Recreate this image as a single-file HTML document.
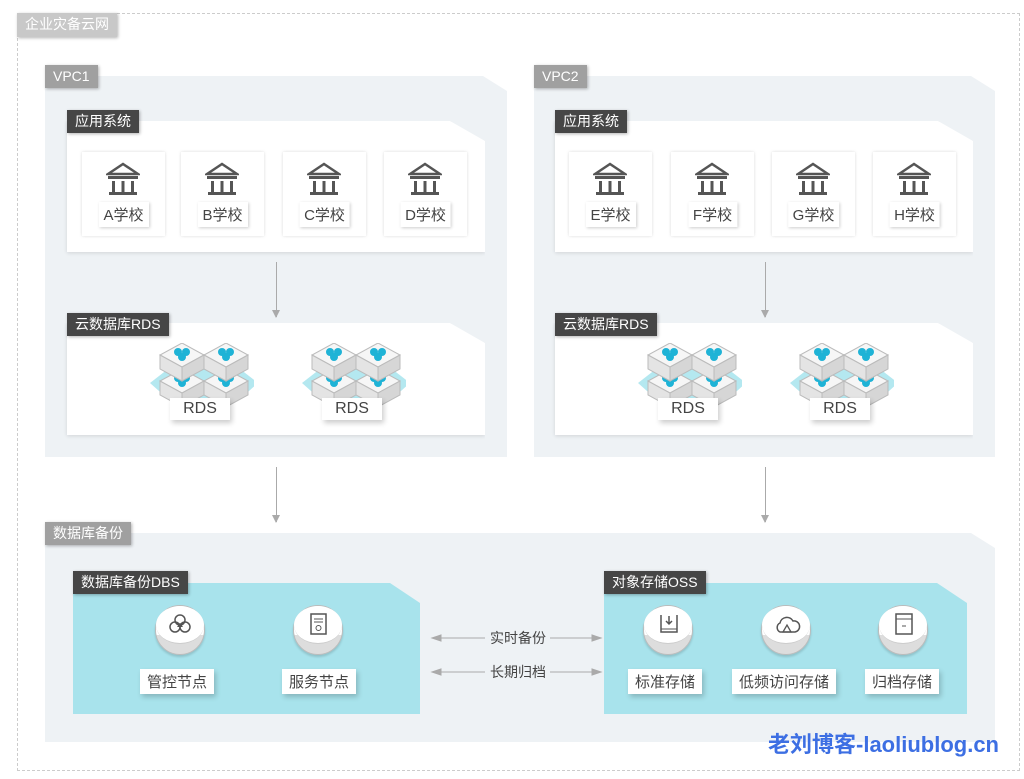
<!DOCTYPE html>
<html><head><meta charset="utf-8"><style>
*{margin:0;padding:0;box-sizing:border-box}
body{width:1024px;height:779px;background:#fff;position:relative;overflow:hidden;font-family:"Liberation Sans","Noto Sans CJK SC",sans-serif}
.a{position:absolute}
.lbl{position:absolute;color:#fff;font-size:14px;line-height:23px;padding:0 8px;white-space:nowrap;box-shadow:1px 1px 3px rgba(0,0,0,.3)}
.g{background:#a0a0a0}.d{background:#464646}
.panel{position:absolute;background:#eef2f5;clip-path:polygon(0 0,calc(100% - 24px) 0,100% 15px,100% 100%,0 100%)}
.wp{position:absolute;background:#fff;box-shadow:0 1px 4px rgba(0,0,0,.12);clip-path:polygon(0 0,calc(100% - 35px) 0,100% 20px,100% calc(100% + 5px),-5px calc(100% + 5px),-5px 0)}
.card{position:absolute;width:83px;height:84px;background:#fff;box-shadow:0 0 3px rgba(0,0,0,.15)}
.card .t{position:absolute;left:50%;transform:translateX(-50%);top:50px;background:#fff;box-shadow:1px 1px 3px rgba(0,0,0,.2);font-size:15px;color:#444;padding:2px 5px;white-space:nowrap}
.cy{position:absolute;background:#a8e3ec;clip-path:polygon(0 0,calc(100% - 30px) 0,100% 20px,100% 100%,0 100%)}
.nb{position:absolute;background:#fff;color:#444;font-size:15px;padding:2px 7px;box-shadow:2px 3px 5px rgba(0,0,0,.2);white-space:nowrap}
.circ{position:absolute;width:50px;height:50px;border-radius:50%;background:linear-gradient(#fff 60%,#ddd 60%);border:1px solid #bbb;box-shadow:0 2px 2px rgba(0,0,0,.15)}
.circ .f{position:absolute;left:0;top:0;width:48px;height:38px;border-radius:50%;background:#fff;border-bottom:1px solid #ccc}
.varr{position:absolute;width:1px;background:#aaa}
.varr:after{content:"";position:absolute;left:-4px;bottom:-1px;border-left:4.5px solid transparent;border-right:4.5px solid transparent;border-top:8px solid #aaa}
</style></head><body>
<div class="a" style="left:17px;top:13px;width:1003px;height:758px;border:1px dashed #ccc"></div>
<div class="lbl" style="left:17px;top:13px;background:#c8c8c8;height:24px">企业灾备云网</div>

<div class="panel" style="left:45px;top:76px;width:462px;height:381px"></div>
<div class="lbl g" style="left:45px;top:65px">VPC1</div>
<div class="panel" style="left:534px;top:76px;width:461px;height:381px"></div>
<div class="lbl g" style="left:534px;top:65px">VPC2</div>

<svg width="0" height="0" style="position:absolute"><defs>
<g id="bank"><path d="M2 12 L17 2 L32 12 Z" fill="none" stroke="#555" stroke-width="2.5"/><rect x="2" y="14" width="30" height="3" fill="#555"/><rect x="6" y="19" width="3" height="12" fill="#555"/><rect x="15.5" y="19" width="3" height="12" fill="#555"/><rect x="25" y="19" width="3" height="12" fill="#555"/><rect x="3" y="30" width="28" height="3" fill="#555"/></g>
<g id="cube"><path d="M22 0 L44 12 L22 24 L0 12Z" fill="#f6f6f6" stroke="#bbb"/><path d="M0 12 L22 24 L22 38 L0 26Z" fill="#e4e4e4" stroke="#bbb"/><path d="M44 12 L22 24 L22 38 L44 26Z" fill="#d6d6d6" stroke="#bbb"/><circle cx="18" cy="9" r="4" fill="#1fb3d6"/><circle cx="26" cy="9" r="4" fill="#1fb3d6"/><circle cx="22" cy="14" r="4" fill="#1fb3d6"/></g>
<g id="rds"><path d="M-4 40 L14 26 L86 26 L104 40 L86 56 L14 56Z" fill="#b4e8f0"/><use href="#cube" x="6" y="26"/><use href="#cube" x="50" y="26"/><use href="#cube" x="6" y="0"/><use href="#cube" x="50" y="0"/></g>
</defs></svg>

<div class="wp" style="left:67px;top:121px;width:418px;height:131px"></div>
<div class="lbl d" style="left:67px;top:110px">应用系统</div>
<div class="wp" style="left:555px;top:121px;width:418px;height:131px"></div>
<div class="lbl d" style="left:555px;top:110px">应用系统</div>
<div class="card" style="left:82px;top:152px"><svg class="a" style="left:24px;top:10px" width="34" height="34"><use href="#bank"/></svg><div class="t">A学校</div></div>
<div class="card" style="left:181px;top:152px"><svg class="a" style="left:24px;top:10px" width="34" height="34"><use href="#bank"/></svg><div class="t">B学校</div></div>
<div class="card" style="left:283px;top:152px"><svg class="a" style="left:24px;top:10px" width="34" height="34"><use href="#bank"/></svg><div class="t">C学校</div></div>
<div class="card" style="left:384px;top:152px"><svg class="a" style="left:24px;top:10px" width="34" height="34"><use href="#bank"/></svg><div class="t">D学校</div></div>
<div class="card" style="left:569px;top:152px"><svg class="a" style="left:24px;top:10px" width="34" height="34"><use href="#bank"/></svg><div class="t">E学校</div></div>
<div class="card" style="left:671px;top:152px"><svg class="a" style="left:24px;top:10px" width="34" height="34"><use href="#bank"/></svg><div class="t">F学校</div></div>
<div class="card" style="left:772px;top:152px"><svg class="a" style="left:24px;top:10px" width="34" height="34"><use href="#bank"/></svg><div class="t">G学校</div></div>
<div class="card" style="left:873px;top:152px"><svg class="a" style="left:24px;top:10px" width="34" height="34"><use href="#bank"/></svg><div class="t">H学校</div></div>

<div class="varr" style="left:276px;top:262px;height:55px"></div>
<div class="varr" style="left:765px;top:262px;height:55px"></div>

<div class="wp" style="left:67px;top:323px;width:418px;height:112px"></div>
<div class="lbl d" style="left:67px;top:313px">云数据库RDS</div>
<div class="wp" style="left:555px;top:323px;width:418px;height:112px"></div>
<div class="lbl d" style="left:555px;top:313px">云数据库RDS</div>
<svg class="a" style="left:150px;top:343px" width="104" height="64"><use href="#rds" x="4"/></svg>
<svg class="a" style="left:302px;top:343px" width="104" height="64"><use href="#rds" x="4"/></svg>
<svg class="a" style="left:638px;top:343px" width="104" height="64"><use href="#rds" x="4"/></svg>
<svg class="a" style="left:790px;top:343px" width="104" height="64"><use href="#rds" x="4"/></svg>
<div class="nb" style="left:170px;top:398px;width:60px;text-align:center;font-size:16px">RDS</div>
<div class="nb" style="left:322px;top:398px;width:60px;text-align:center;font-size:16px">RDS</div>
<div class="nb" style="left:658px;top:398px;width:60px;text-align:center;font-size:16px">RDS</div>
<div class="nb" style="left:810px;top:398px;width:60px;text-align:center;font-size:16px">RDS</div>

<div class="varr" style="left:276px;top:467px;height:55px"></div>
<div class="varr" style="left:765px;top:467px;height:55px"></div>

<div class="panel" style="left:45px;top:533px;width:950px;height:209px"></div>
<div class="lbl g" style="left:45px;top:522px">数据库备份</div>
<div class="cy" style="left:73px;top:583px;width:347px;height:131px"></div>
<div class="lbl d" style="left:73px;top:571px">数据库备份DBS</div>
<div class="cy" style="left:604px;top:583px;width:363px;height:131px"></div>
<div class="lbl d" style="left:604px;top:571px">对象存储OSS</div>

<div class="circ" style="left:155px;top:605px"><div class="f"></div><svg class="a" style="left:12px;top:6px" width="24" height="24"><circle cx="12" cy="8" r="5" fill="none" stroke="#555" stroke-width="1.5"/><circle cx="7" cy="15" r="5" fill="none" stroke="#555" stroke-width="1.5"/><circle cx="17" cy="15" r="5" fill="none" stroke="#555" stroke-width="1.5"/><path d="M9 15 L12 11 L15 15Z" fill="#555"/></svg></div>
<div class="circ" style="left:293px;top:605px"><div class="f"></div><svg class="a" style="left:14px;top:6px" width="22" height="26"><rect x="3" y="2" width="15" height="20" fill="none" stroke="#555" stroke-width="1.5"/><line x1="6" y1="7" x2="15" y2="7" stroke="#555"/><line x1="6" y1="10" x2="15" y2="10" stroke="#555"/><circle cx="10.5" cy="16" r="2.5" fill="none" stroke="#555"/></svg></div>
<div class="nb" style="left:140px;top:669px">管控节点</div>
<div class="nb" style="left:282px;top:669px">服务节点</div>

<div class="circ" style="left:643px;top:605px"><div class="f"></div><svg class="a" style="left:14px;top:6px" width="22" height="26"><path d="M3 3 L3 20 L19 20 L19 3" fill="none" stroke="#555" stroke-width="1.5"/><line x1="3" y1="17" x2="19" y2="17" stroke="#555"/><path d="M11 4 L11 12 M8 9 L11 12 L14 9" fill="none" stroke="#555" stroke-width="1.5"/></svg></div>
<div class="circ" style="left:761px;top:605px"><div class="f"></div><svg class="a" style="left:11px;top:7px" width="28" height="24"><path d="M7 19 A5 5 0 0 1 7 10 A7 7 0 0 1 20 8 A5.5 5.5 0 0 1 22 19 Z" fill="none" stroke="#555" stroke-width="1.5"/><path d="M10 19 L14 12 L18 19Z" fill="none" stroke="#555" stroke-width="1.3"/></svg></div>
<div class="circ" style="left:878px;top:605px"><div class="f"></div><svg class="a" style="left:14px;top:6px" width="22" height="26"><rect x="3" y="2" width="16" height="20" fill="none" stroke="#555" stroke-width="1.5"/><line x1="3" y1="7" x2="19" y2="7" stroke="#555"/><line x1="9" y1="14" x2="13" y2="14" stroke="#555"/></svg></div>
<div class="nb" style="left:628px;top:669px">标准存储</div>
<div class="nb" style="left:732px;top:669px">低频访问存储</div>
<div class="nb" style="left:865px;top:669px">归档存储</div>

<svg class="a" style="left:430px;top:625px" width="175" height="60">
<g stroke="#aaa" stroke-width="1" fill="#aaa">
<line x1="8" y1="13" x2="55" y2="13"/><line x1="120" y1="13" x2="165" y2="13"/>
<line x1="8" y1="47" x2="55" y2="47"/><line x1="120" y1="47" x2="165" y2="47"/>
<path d="M2 13 L11 10 L11 16Z"/><path d="M171 13 L162 10 L162 16Z"/>
<path d="M2 47 L11 44 L11 50Z"/><path d="M171 47 L162 44 L162 50Z"/>
</g>
<text x="88" y="18" text-anchor="middle" font-size="14" fill="#444" font-family="Liberation Sans,Noto Sans CJK SC,sans-serif">实时备份</text>
<text x="88" y="52" text-anchor="middle" font-size="14" fill="#444" font-family="Liberation Sans,Noto Sans CJK SC,sans-serif">长期归档</text>
</svg>

<div class="a" style="left:768px;top:727px;font-size:22px;font-weight:bold;color:#3d6fe3;white-space:nowrap">老刘博客-laoliublog.cn</div>
</body></html>
